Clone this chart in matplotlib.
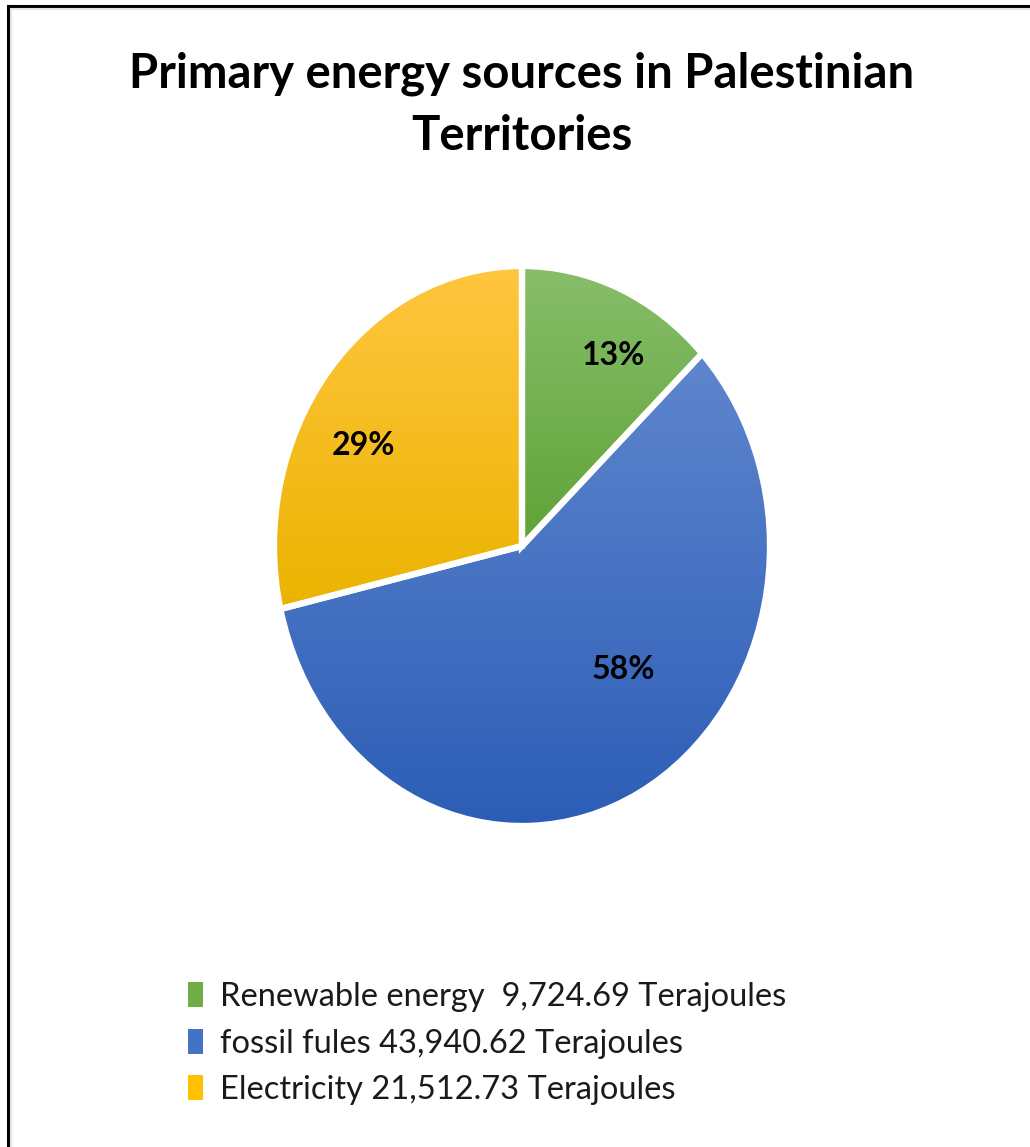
import matplotlib
matplotlib.use('Agg')
import matplotlib.pyplot as plt
import numpy as np
from matplotlib.colors import LinearSegmentedColormap
from matplotlib.patches import Rectangle

plt.rcParams['font.family'] = ['Lato', 'DejaVu Sans']

title = 'Primary energy sources in Palestinian\nTerritories'
sources = ['Renewable energy', 'fossil fules', 'Electricity']
terajoules = [9724.69, 43940.62, 21512.73]
legend_labels = ['Renewable energy  9,724.69 Terajoules',
                 'fossil fules 43,940.62 Terajoules',
                 'Electricity 21,512.73 Terajoules']
base_colors = ['#70ad47', '#4472c4', '#ffc000']
# light (top) and dark (bottom) ends of each slice's fill
grad_colors = [('#88be6a', '#5fa337'),
               ('#5f86ce', '#2c5db6'),
               ('#ffc640', '#ebb300')]
# where the percent labels sit, in pie units
label_xy = [(0.37, 0.68), (0.41, -0.44), (-0.64, 0.36)]

W, H = 1030, 1147
fig = plt.figure(figsize=(W / 100, H / 100), dpi=100)

# pie box in pixels (left, top, width, height)
px, py, pw, ph = 274, 266, 496, 560
ax = fig.add_axes([px / W, 1 - (py + ph) / H, pw / W, ph / H])

wedges, texts, autotexts = ax.pie(
    terajoules, colors=base_colors, startangle=90, counterclock=False,
    autopct='%1.0f%%', radius=1,
    wedgeprops=dict(edgecolor='white', linewidth=4.5),
    textprops=dict(fontsize=23, fontweight='bold', color='black'))
ax.set_aspect('auto')
ax.axis('off')

for t, (x, y) in zip(autotexts, label_xy):
    t.set_position((x, y))
    t.set_zorder(5)

leg = fig.legend(wedges, legend_labels, loc='upper left',
                 bbox_to_anchor=(172 / W, 1 - 966 / H), frameon=False,
                 fontsize=23.5, handlelength=0.46, handleheight=0.8,
                 handletextpad=0.5, labelspacing=0.5, borderpad=0)
for txt in leg.get_texts():
    txt.set_color('#1a1a1a')
for h in leg.legend_handles:
    h.set_linewidth(0)
    h.set_edgecolor('none')

# vertical gradient inside each slice, edges drawn on top
grad = np.linspace(0, 1, 256).reshape(-1, 1)
for w, (light, dark) in zip(wedges, grad_colors):
    ext = w.get_path().get_extents()
    cmap = LinearSegmentedColormap.from_list('g', [dark, light])
    im = ax.imshow(grad, cmap=cmap, origin='lower', aspect='auto',
                   extent=[ext.x0, ext.x1, ext.y0, ext.y1], zorder=2)
    im.set_clip_path(w)
    w.set_facecolor('none')
    w.set_zorder(3)
ax.set_xlim(-1, 1)
ax.set_ylim(-1, 1)

fig.text(522 / W, 1 - 52 / H, title, ha='center', va='top',
         fontsize=34, fontweight='bold', color='black', linespacing=1.5)

# outer frame (only top and left edges fall inside the canvas)
fig.patches.append(Rectangle((8 / W, -0.05), 1.1, 1 - 6 / H + 0.05,
                             transform=fig.transFigure, fill=False,
                             edgecolor='black', linewidth=2.2))
fig.patches.append(Rectangle((11 / W, -0.05), 1.1, 1 - 9 / H + 0.05,
                             transform=fig.transFigure, fill=False,
                             edgecolor='#dfe4ec', linewidth=1.5))

fig.savefig('out.png', dpi=100, facecolor='white')
